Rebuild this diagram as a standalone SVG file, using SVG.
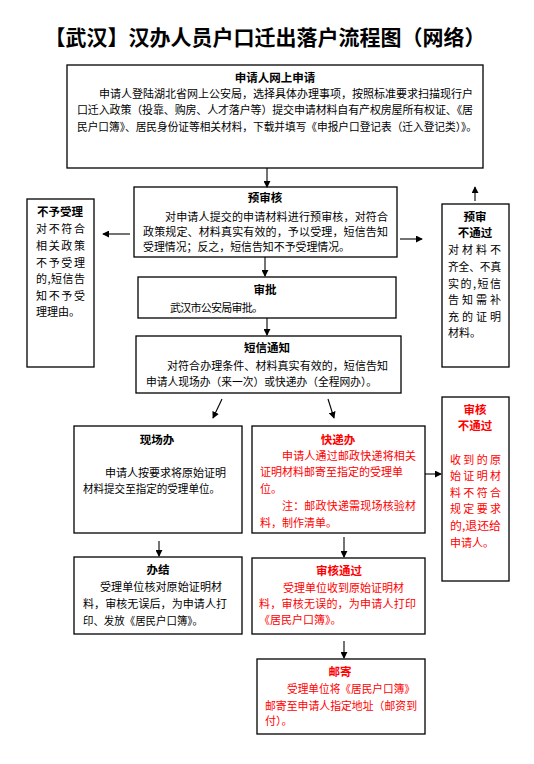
<svg xmlns="http://www.w3.org/2000/svg" width="534" height="764" viewBox="0 0 534 764">
<style>
text{font-family:"Noto Sans CJK SC","Noto Sans",sans-serif;font-size:11px;fill:#000}
.t{font-weight:bold;text-anchor:middle;font-size:11.5px}
.r{fill:#ff0000}
.box{fill:#fff;stroke:#000;stroke-width:1.3}
.title{font-size:21px;font-weight:bold;text-anchor:middle}
.c line{stroke:#000;stroke-width:1.1;marker-end:url(#ah)}
</style>
<defs>
<marker id="ah" viewBox="0 0 8 8" refX="7" refY="4" markerWidth="7" markerHeight="7" markerUnits="userSpaceOnUse" orient="auto">
<path d="M0,0 L8,4 L0,8 z" fill="#000"/>
</marker>
</defs>
<rect width="534" height="764" fill="#fff"/>
<text class="title" x="265" y="45">【武汉】汉办人员户口迁出落户流程图（网络）</text>

<g id="apply">
<rect class="box" x="67" y="65" width="416" height="103"/>
<text class="t" x="275" y="82">申请人网上申请</text>
<text x="99" y="98" textLength="374" lengthAdjust="spacing">申请人登陆湖北省网上公安局，选择具体办理事项，按照标准要求扫描现行户</text>
<text x="77" y="114" textLength="396" lengthAdjust="spacing">口迁入政策（投靠、购房、人才落户等）提交申请材料自有产权房屋所有权证、《居</text>
<text x="77" y="131" textLength="400" lengthAdjust="spacingAndGlyphs">民户口簿》、居民身份证等相关材料，下载并填写《申报户口登记表（迁入登记类）》。</text>
</g>

<g id="precheck">
<rect class="box" x="134" y="187" width="263" height="70"/>
<text class="t" x="265" y="202">预审核</text>
<text x="165" y="221" textLength="223" lengthAdjust="spacing">对申请人提交的申请材料进行预审核，对符合</text>
<text x="143" y="236" textLength="245" lengthAdjust="spacing">政策规定、材料真实有效的，予以受理，短信告知</text>
<text x="143" y="251" textLength="207" lengthAdjust="spacingAndGlyphs">受理情况；反之，短信告知不予受理情况。</text>
</g>

<g id="reject">
<rect class="box" x="27" y="199" width="67" height="168"/>
<text class="t" x="60" y="216">不予受理</text>
<text x="36" y="233" textLength="49" lengthAdjust="spacing">对不符合</text>
<text x="36" y="250" textLength="49" lengthAdjust="spacing">相关政策</text>
<text x="36" y="267" textLength="49" lengthAdjust="spacing">不予受理</text>
<text x="36" y="283" textLength="49" lengthAdjust="spacing">的,短信告</text>
<text x="36" y="300" textLength="49" lengthAdjust="spacing">知不予受</text>
<text x="36" y="316">理理由。</text>
</g>

<g id="prefail">
<rect class="box" x="442" y="204" width="67" height="163"/>
<text class="t" x="475" y="221">预审</text>
<text class="t" x="475" y="237">不通过</text>
<text x="448" y="254" textLength="53" lengthAdjust="spacing">对材料不</text>
<text x="448" y="271" textLength="53" lengthAdjust="spacingAndGlyphs">齐全、不真</text>
<text x="448" y="288" textLength="53" lengthAdjust="spacing">实的,短信</text>
<text x="448" y="304" textLength="53" lengthAdjust="spacing">告知需补</text>
<text x="448" y="321" textLength="53" lengthAdjust="spacing">充的证明</text>
<text x="448" y="337">材料。</text>
</g>

<g id="approve">
<rect class="box" x="138" y="277" width="258" height="41"/>
<text class="t" x="265" y="294">审批</text>
<text x="170" y="312" textLength="93" lengthAdjust="spacing">武汉市公安局审批。</text>
</g>

<g id="sms">
<rect class="box" x="136" y="336" width="265" height="57"/>
<text class="t" x="267" y="352">短信通知</text>
<text x="167" y="370" textLength="221" lengthAdjust="spacing">对符合办理条件、材料真实有效的，短信告知</text>
<text x="146" y="386" textLength="231" lengthAdjust="spacingAndGlyphs">申请人现场办（来一次）或快递办（全程网办）。</text>
</g>

<g id="onsite">
<rect class="box" x="74" y="426" width="168" height="107"/>
<text class="t" x="157" y="444">现场办</text>
<text x="105" y="477" textLength="121" lengthAdjust="spacing">申请人按要求将原始证明</text>
<text x="83" y="493" textLength="137" lengthAdjust="spacingAndGlyphs">材料提交至指定的受理单位。</text>
</g>

<g id="done">
<rect class="box" x="74" y="557" width="168" height="77"/>
<text class="t" x="158" y="574">办结</text>
<text x="100" y="591" textLength="122" lengthAdjust="spacing">受理单位核对原始证明材</text>
<text x="83" y="608" textLength="144" lengthAdjust="spacing">料，审核无误后，为申请人打</text>
<text x="83" y="625" textLength="120" lengthAdjust="spacingAndGlyphs">印、发放《居民户口簿》。</text>
</g>

<g id="express">
<rect class="box" x="252" y="426" width="173" height="107"/>
<text class="t r" x="338" y="444">快递办</text>
<text class="r" x="282" y="460" textLength="134" lengthAdjust="spacing">申请人通过邮政快递将相关</text>
<text class="r" x="260" y="476" textLength="143" lengthAdjust="spacing">证明材料邮寄至指定的受理单</text>
<text class="r" x="260" y="493">位。</text>
<text class="r" x="282" y="510" textLength="134" lengthAdjust="spacing">注：邮政快递需现场核验材</text>
<text class="r" x="260" y="527">料，制作清单。</text>
</g>

<g id="checkfail">
<rect class="box" x="442" y="397" width="67" height="184"/>
<text class="t r" x="475" y="414">审核</text>
<text class="t r" x="475" y="430">不通过</text>
<text class="r" x="450" y="464" textLength="51" lengthAdjust="spacing">收到的原</text>
<text class="r" x="450" y="480" textLength="51" lengthAdjust="spacing">始证明材</text>
<text class="r" x="450" y="497" textLength="51" lengthAdjust="spacing">料不符合</text>
<text class="r" x="450" y="513" textLength="51" lengthAdjust="spacing">规定要求</text>
<text class="r" x="450" y="530" textLength="51" lengthAdjust="spacingAndGlyphs">的,退还给</text>
<text class="r" x="450" y="547">申请人。</text>
</g>

<g id="checkpass">
<rect class="box" x="252" y="558" width="173" height="76"/>
<text class="t r" x="339" y="575">审核通过</text>
<text class="r" x="283" y="592" textLength="121" lengthAdjust="spacing">受理单位收到原始证明材</text>
<text class="r" x="259" y="608" textLength="157" lengthAdjust="spacing">料，审核无误的，为申请人打印</text>
<text class="r" x="259" y="624">《居民户口簿》。</text>
</g>

<g id="mail">
<rect class="box" x="257" y="659" width="168" height="75"/>
<text class="t r" x="340" y="676">邮寄</text>
<text class="r" x="287" y="693" textLength="128" lengthAdjust="spacingAndGlyphs">受理单位将《居民户口簿》</text>
<text class="r" x="265" y="710" textLength="152" lengthAdjust="spacingAndGlyphs">邮寄至申请人指定地址（邮资到</text>
<text class="r" x="265" y="725">付）。</text>
</g>

<g class="c" id="connectors">
<line x1="267" y1="168" x2="267" y2="187"/>
<line x1="130" y1="234" x2="103" y2="234"/>
<line x1="400" y1="239" x2="422" y2="239"/>
<line x1="475" y1="201" x2="475" y2="187"/>
<line x1="265" y1="257" x2="265" y2="276"/>
<line x1="267" y1="318" x2="267" y2="335"/>
<line x1="222" y1="399" x2="213" y2="418"/>
<line x1="328" y1="399" x2="334" y2="418"/>
<line x1="159" y1="541" x2="159" y2="556"/>
<line x1="425" y1="474" x2="441" y2="474"/>
<line x1="344" y1="537" x2="344" y2="557"/>
<line x1="344" y1="641" x2="344" y2="658"/>
</g>
</svg>
